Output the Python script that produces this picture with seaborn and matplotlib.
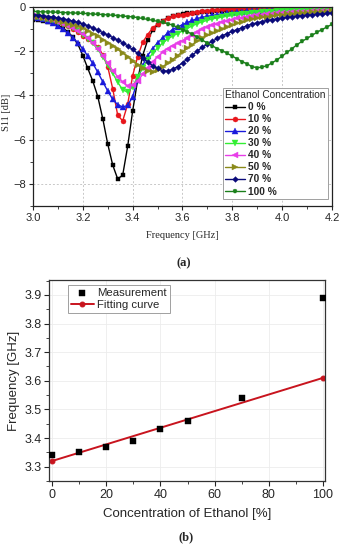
import numpy as np
import pandas as pd
import matplotlib
matplotlib.use("Agg")
import matplotlib.pyplot as plt
import seaborn as sns
from matplotlib.ticker import MultipleLocator

# ---------------- data (a) ----------------
freq_ghz = [round(3.00 + 0.02 * i, 2) for i in range(61)]

s11_0 = [-0.57, -0.60, -0.63, -0.67, -0.73, -0.82, -0.95, -1.13, -1.36, -1.68,
         -2.20, -2.78, -3.35, -4.05, -5.05, -6.20, -7.15, -7.78, -7.60, -6.30,
         -4.70, -3.30, -2.20, -1.50, -1.05, -0.80, -0.62, -0.50, -0.42, -0.36,
         -0.32, -0.29, -0.27, -0.25, -0.23, -0.22, -0.21, -0.20, -0.19, -0.18,
         -0.18, -0.17, -0.17, -0.16, -0.16, -0.15, -0.15, -0.15, -0.14, -0.14,
         -0.14, -0.13, -0.13, -0.13, -0.13, -0.12, -0.12, -0.12, -0.12, -0.12,
         -0.12]
s11_10 = [-0.45, -0.48, -0.52, -0.56, -0.62, -0.69, -0.78, -0.88, -1.00, -1.14,
          -1.30, -1.45, -1.60, -1.80, -2.15, -2.70, -3.70, -4.90, -5.15, -4.40,
          -3.10, -2.25, -1.60, -1.25, -0.95, -0.77, -0.62, -0.50, -0.42, -0.38,
          -0.35, -0.30, -0.25, -0.21, -0.18, -0.16, -0.14, -0.12, -0.10, -0.09,
          -0.08, -0.07, -0.06, -0.05, -0.05, -0.04, -0.04, -0.04, -0.03, -0.03,
          -0.03, -0.03, -0.03, -0.03, -0.03, -0.03, -0.03, -0.03, -0.03, -0.03,
          -0.03]
s11_20 = [-0.45, -0.50, -0.55, -0.62, -0.72, -0.85, -1.00, -1.18, -1.38, -1.62,
          -1.90, -2.22, -2.55, -2.95, -3.38, -3.80, -4.18, -4.42, -4.52, -4.45,
          -4.05, -3.30, -2.65, -2.20, -1.88, -1.62, -1.40, -1.18, -1.02, -0.90,
          -0.80, -0.70, -0.61, -0.52, -0.46, -0.42, -0.38, -0.34, -0.31, -0.28,
          -0.26, -0.24, -0.22, -0.20, -0.19, -0.17, -0.16, -0.15, -0.14, -0.13,
          -0.12, -0.12, -0.11, -0.11, -0.10, -0.10, -0.10, -0.09, -0.09, -0.09,
          -0.09]
s11_30 = [-0.43, -0.47, -0.51, -0.56, -0.61, -0.68, -0.76, -0.86, -0.97, -1.10,
          -1.25, -1.43, -1.64, -1.92, -2.25, -2.62, -3.00, -3.40, -3.75, -3.85,
          -3.60, -3.15, -2.75, -2.40, -2.10, -1.85, -1.63, -1.45, -1.32, -1.20,
          -1.08, -0.96, -0.85, -0.75, -0.67, -0.60, -0.54, -0.49, -0.45, -0.41,
          -0.38, -0.35, -0.32, -0.30, -0.28, -0.26, -0.24, -0.23, -0.21, -0.20,
          -0.19, -0.18, -0.17, -0.16, -0.16, -0.15, -0.14, -0.14, -0.13, -0.13,
          -0.12]
s11_40 = [-0.42, -0.46, -0.50, -0.55, -0.60, -0.67, -0.75, -0.85, -0.96, -1.09,
          -1.24, -1.42, -1.62, -1.90, -2.20, -2.55, -2.88, -3.15, -3.40, -3.57,
          -3.55, -3.35, -3.05, -2.75, -2.48, -2.25, -2.05, -1.88, -1.75, -1.65,
          -1.55, -1.42, -1.28, -1.12, -1.00, -0.90, -0.83, -0.76, -0.69, -0.62,
          -0.57, -0.52, -0.48, -0.43, -0.40, -0.37, -0.34, -0.32, -0.30, -0.28,
          -0.27, -0.25, -0.24, -0.23, -0.22, -0.21, -0.20, -0.19, -0.18, -0.17,
          -0.16]
s11_50 = [-0.40, -0.44, -0.48, -0.53, -0.58, -0.64, -0.70, -0.76, -0.82, -0.88,
          -0.96, -1.08, -1.20, -1.33, -1.47, -1.61, -1.76, -1.92, -2.08, -2.25,
          -2.45, -2.62, -2.78, -2.88, -2.92, -2.85, -2.70, -2.55, -2.38, -2.20,
          -2.02, -1.85, -1.70, -1.53, -1.38, -1.27, -1.17, -1.07, -0.98, -0.89,
          -0.80, -0.73, -0.66, -0.59, -0.54, -0.50, -0.46, -0.43, -0.40, -0.37,
          -0.35, -0.33, -0.31, -0.29, -0.27, -0.26, -0.24, -0.23, -0.22, -0.21,
          -0.20]
s11_70 = [-0.35, -0.37, -0.40, -0.43, -0.46, -0.49, -0.53, -0.58, -0.64, -0.70,
          -0.77, -0.85, -0.95, -1.05, -1.16, -1.27, -1.38, -1.50, -1.62, -1.76,
          -1.92, -2.10, -2.30, -2.48, -2.65, -2.78, -2.88, -2.90, -2.82, -2.70,
          -2.52, -2.35, -2.18, -1.98, -1.82, -1.68, -1.55, -1.42, -1.30, -1.20,
          -1.10, -1.02, -0.94, -0.84, -0.77, -0.71, -0.66, -0.61, -0.57, -0.53,
          -0.50, -0.47, -0.44, -0.41, -0.39, -0.37, -0.35, -0.33, -0.31, -0.29,
          -0.27]
s11_100 = [-0.20, -0.21, -0.22, -0.22, -0.23, -0.24, -0.25, -0.26, -0.27, -0.28,
           -0.29, -0.30, -0.32, -0.33, -0.34, -0.36, -0.37, -0.39, -0.41, -0.43,
           -0.45, -0.48, -0.52, -0.56, -0.60, -0.65, -0.70, -0.75, -0.82, -0.92,
           -1.02, -1.12, -1.24, -1.36, -1.50, -1.63, -1.76, -1.88, -1.98, -2.10,
           -2.22, -2.35, -2.47, -2.58, -2.70, -2.75, -2.72, -2.65, -2.52, -2.38,
           -2.22, -2.05, -1.88, -1.70, -1.55, -1.42, -1.28, -1.14, -1.02, -0.90,
           -0.78]

conc_labels = ["0 %", "10 %", "20 %", "30 %", "40 %", "50 %", "70 %", "100 %"]
series_a = [s11_0, s11_10, s11_20, s11_30, s11_40, s11_50, s11_70, s11_100]
colors_a = ["#000000", "#e8151b", "#1a1adb", "#33ee33", "#e83de8",
            "#8a8a1a", "#0a0a7a", "#1a7f1a"]
markers_a = ["s", "o", "^", "v", "<", ">", "D", "p"]
msizes_a = [3.4, 3.6, 3.8, 3.8, 3.8, 3.8, 2.9, 3.6]

# ---------------- data (b) ----------------
conc_pct = [0, 10, 20, 30, 40, 50, 70, 100]
meas_freq = [3.34, 3.35, 3.37, 3.39, 3.43, 3.46, 3.54, 3.89]
fit_conc = [0, 100]
fit_freq = [3.32, 3.61]

# ---------------- style ----------------
sns.set_style("ticks")
plt.rcParams["font.family"] = ["Liberation Sans", "DejaVu Sans"]
plt.rcParams["axes.linewidth"] = 0.9
plt.rcParams["xtick.direction"] = "out"
plt.rcParams["ytick.direction"] = "out"

fig = plt.figure(figsize=(3.43, 5.5), dpi=100)
fig.patch.set_facecolor("white")

# ---------------- panel (a) ----------------
ax1 = fig.add_axes([33 / 343, 1 - 206 / 550, 299 / 343, 199 / 550])
for lab, ys, c, m, ms in zip(conc_labels, series_a, colors_a, markers_a, msizes_a):
    df = pd.DataFrame({"f": freq_ghz, "s": ys})
    sns.lineplot(data=df, x="f", y="s", ax=ax1, color=c, marker=m,
                 markersize=ms, markeredgewidth=0.3, markeredgecolor=c,
                 linewidth=1.0, label=lab)

ax1.set_xlim(3.0, 4.2)
ax1.set_ylim(-9, 0)
ax1.xaxis.set_major_locator(MultipleLocator(0.2))
ax1.xaxis.set_minor_locator(MultipleLocator(0.1))
ax1.yaxis.set_major_locator(MultipleLocator(2))
ax1.yaxis.set_minor_locator(MultipleLocator(1))
ax1.xaxis.set_major_formatter(matplotlib.ticker.FormatStrFormatter("%.1f"))
ax1.grid(True, which="major", linestyle=(0, (2, 2)), color="#c8c8c8", linewidth=0.7)
ax1.tick_params(which="major", length=3, width=0.8, labelsize=8, pad=2)
ax1.tick_params(which="minor", length=2, width=0.6)
for sp in ax1.spines.values():
    sp.set_visible(True)
    sp.set_color("#222222")
ax1.set_xlabel("Frequency [GHz]", family=["Liberation Serif"], fontsize=7.5, labelpad=6)
ax1.set_ylabel("S11 [dB]", family=["Liberation Serif"], fontsize=7.5)
ax1.yaxis.set_label_coords(-0.075, 0.47)

leg1 = ax1.legend(title="Ethanol Concentration", loc="lower right",
                  bbox_to_anchor=(0.987, 0.035), borderaxespad=0,
                  fancybox=False, framealpha=1, edgecolor="#a0a0a0",
                  labelspacing=0.2,
                  handlelength=2.0, handletextpad=0.3, borderpad=0.25,
                  prop={"family": ["Liberation Sans"], "weight": "bold", "size": 7.3})
leg1.get_title().set_fontfamily(["Liberation Sans"])
leg1.get_title().set_fontsize(7.3)
leg1.get_title().set_fontweight("normal")
leg1.get_frame().set_linewidth(0.7)
leg1._legend_box.align = "left"

fig.text(184 / 343, 1 - 263 / 550, "(a)", family=["Liberation Serif"],
         fontsize=9, fontweight="bold", ha="center", va="center")

# ---------------- panel (b) ----------------
ax2 = fig.add_axes([49 / 343, 1 - 481 / 550, 276 / 343, 201 / 550])
dfm = pd.DataFrame({"c": conc_pct, "f": meas_freq})
dff = pd.DataFrame({"c": fit_conc, "f": fit_freq})
sns.scatterplot(data=dfm, x="c", y="f", ax=ax2, marker="s", s=14,
                color="black", edgecolor="black", linewidth=0.3,
                label="Measurement", zorder=3)
sns.lineplot(data=dff, x="c", y="f", ax=ax2, color="#c8141e", linewidth=1.4,
             marker="o", markersize=3.5, markeredgecolor="#c8141e",
             label="Fitting curve", zorder=2)

ax2.set_xlim(-1.2, 100.8)
ax2.set_ylim(3.25, 3.952)
ax2.xaxis.set_major_locator(MultipleLocator(20))
ax2.xaxis.set_minor_locator(MultipleLocator(10))
ax2.yaxis.set_major_locator(MultipleLocator(0.1))
ax2.yaxis.set_minor_locator(MultipleLocator(0.05))
ax2.yaxis.set_major_formatter(matplotlib.ticker.FormatStrFormatter("%.1f"))
ax2.grid(True, which="major", color="#ececec", linewidth=0.6)
ax2.tick_params(which="major", length=3.5, width=0.8, labelsize=9, pad=2)
ax2.tick_params(which="minor", length=2, width=0.6)
for sp in ax2.spines.values():
    sp.set_visible(True)
    sp.set_color("#333333")
ax2.set_xlabel("Concentration of Ethanol [%]", fontsize=9.5, labelpad=5)
ax2.set_ylabel("Frequency [GHz]", fontsize=9.5, labelpad=3)

leg2 = ax2.legend(loc="upper left", bbox_to_anchor=(0.069, 0.975),
                  borderaxespad=0, fancybox=False, framealpha=1,
                  edgecolor="#a0a0a0", fontsize=8.2, labelspacing=0.2,
                  handlelength=2.0, handletextpad=0.3, borderpad=0.25)
leg2.get_frame().set_linewidth(0.7)

fig.text(186 / 343, 1 - 537 / 550, "(b)", family=["Liberation Serif"],
         fontsize=9, fontweight="bold", ha="center", va="center")

fig.savefig("out.png", dpi=100, facecolor="white")
